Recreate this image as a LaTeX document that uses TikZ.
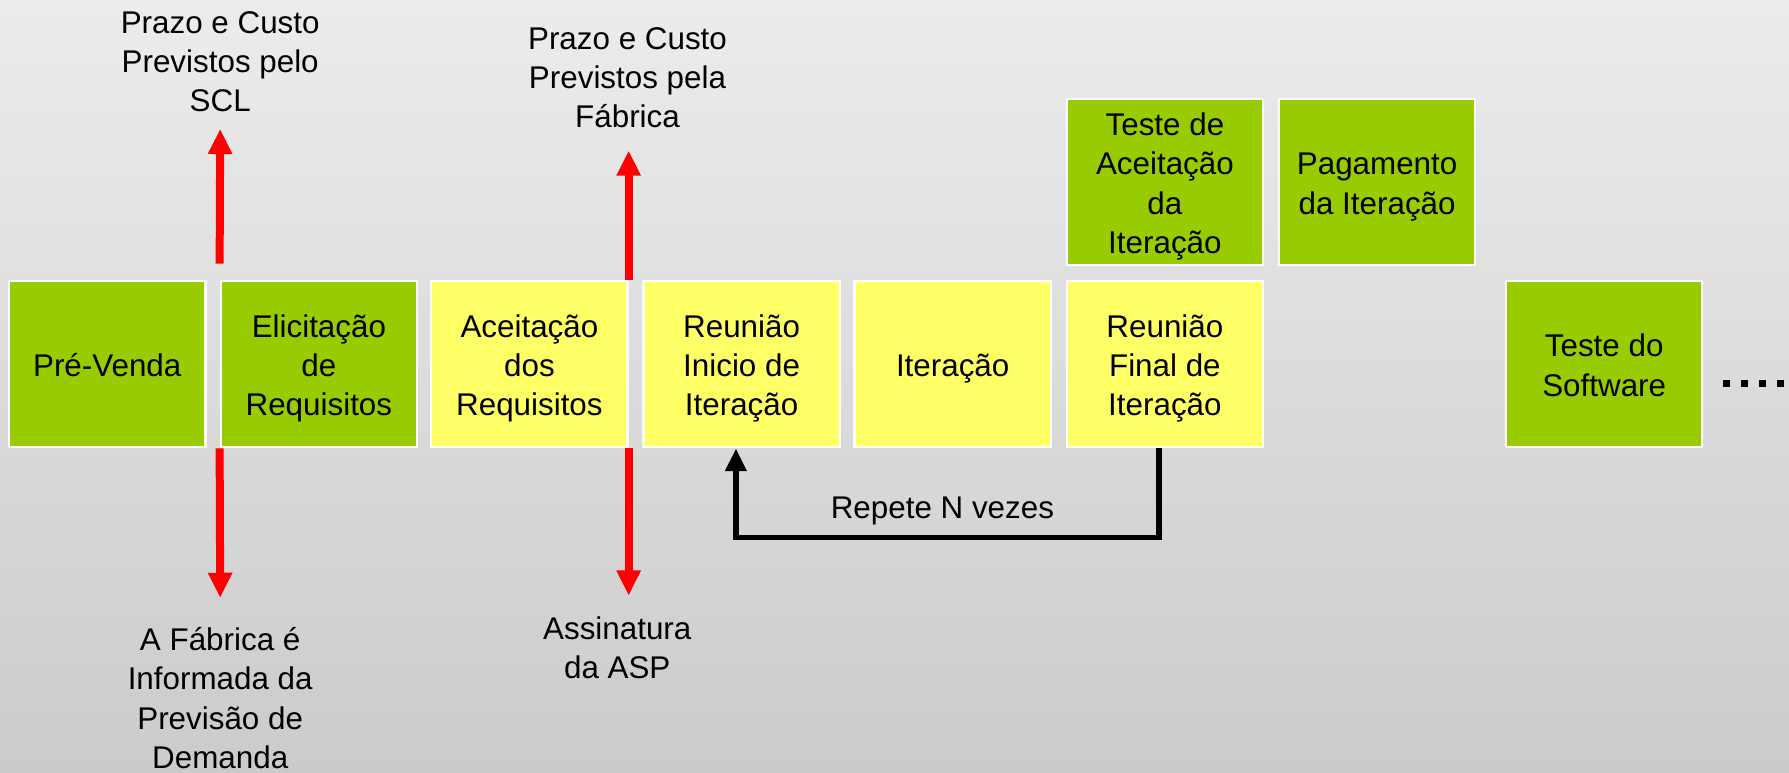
\documentclass[tikz,border=0pt]{standalone}
\usepackage{fontspec}
\setmainfont{Liberation Sans}
\usetikzlibrary{arrows.meta,calc}
\definecolor{bgtop}{RGB}{236,236,236}
\definecolor{bgbot}{RGB}{203,203,203}
\definecolor{gbox}{RGB}{153,204,0}
\definecolor{ybox}{RGB}{255,255,102}
\definecolor{rarrow}{RGB}{255,0,0}
\newcommand{\lnst}{\rule[-6pt]{0pt}{34pt}}
\begin{document}
\begin{tikzpicture}[x=1pt,y=-1pt,
  every node/.style={font=\fontsize{27.5}{34.5}\selectfont, align=center, inner sep=0pt},
  stage/.style={draw=white, line width=2pt, minimum width=172pt, minimum height=146pt},
  gstage/.style={stage, fill=gbox},
  ystage/.style={stage, fill=ybox},
  redarrow/.style={draw=rarrow, line width=7pt, -{Triangle[width=20pt,length=22pt]}},
  loopline/.style={draw=black, line width=5pt, -{Triangle[width=18pt,length=20pt]}},
  dotline/.style={draw=black, line width=6.4pt, dash pattern=on 6.4pt off 9.4pt}
]
\useasboundingbox (0,0) rectangle (1568,677.5);
\shade[top color=bgtop, bottom color=bgbot] (0,0) rectangle (1568,677.5);

% main row
\node[gstage] (pre)   at (94,319)    {\lnst Pré-Venda};
\node[gstage] (elic)  at (279.5,319) {\lnst Elicitação\\\lnst de\\\lnst Requisitos};
\node[ystage] (acei)  at (464,319)   {\lnst Aceitação\\\lnst dos\\\lnst Requisitos};
\node[ystage] (rini)  at (650,319)   {\lnst Reunião\\\lnst Inicio de\\\lnst Iteração};
\node[ystage] (iter)  at (835,319)   {\lnst Iteração};
\node[ystage] (rfin)  at (1021,319)  {\lnst Reunião\\\lnst Final de\\\lnst Iteração};
\node[gstage] (teste) at (1406,319)  {\lnst Teste do\\\lnst Software};
% top row
\node[gstage] (tacei) at (1021,159.5) {\lnst Teste de\\\lnst Aceitação\\\lnst da\\\lnst Iteração};
\node[gstage] (pag)   at (1207,159.5) {\lnst Pagamento\\\lnst da Iteração};

% labels
\node (scl) at (193,54)  {Prazo e Custo\\Previstos pelo\\SCL};
\node (fab) at (550,68)  {Prazo e Custo\\Previstos pela\\Fábrica};
\node (dem) at (193,612) {A Fábrica é\\Informada da\\Previsão de\\Demanda};
\node (asp) at (541,568) {Assinatura\\da ASP};
\node (rep) at (826,448) {Repete N vezes};

% arrow ends
\coordinate (sclTip) at (193,113);
\coordinate (demTip) at (193,524);
\coordinate (fabTip) at (551,132);
\coordinate (aspTip) at (551,522);

\draw[redarrow] ([yshift=14pt]elic.north west) -- (sclTip);
\draw[redarrow] (elic.south west) -- (demTip);
\draw[redarrow] (acei.north east) -- (fabTip);
\draw[redarrow] (acei.south east) -- (aspTip);

% loop
\draw[loopline] ([xshift=-5pt]rfin.south) -- ++(0,78) -| ([xshift=-5pt]rini.south);

% continuation dots
\coordinate (dotsA) at (1510,336);
\coordinate (dotsB) at (1564,336);
\draw[dotline] (dotsA) -- (dotsB);
\end{tikzpicture}
\end{document}
